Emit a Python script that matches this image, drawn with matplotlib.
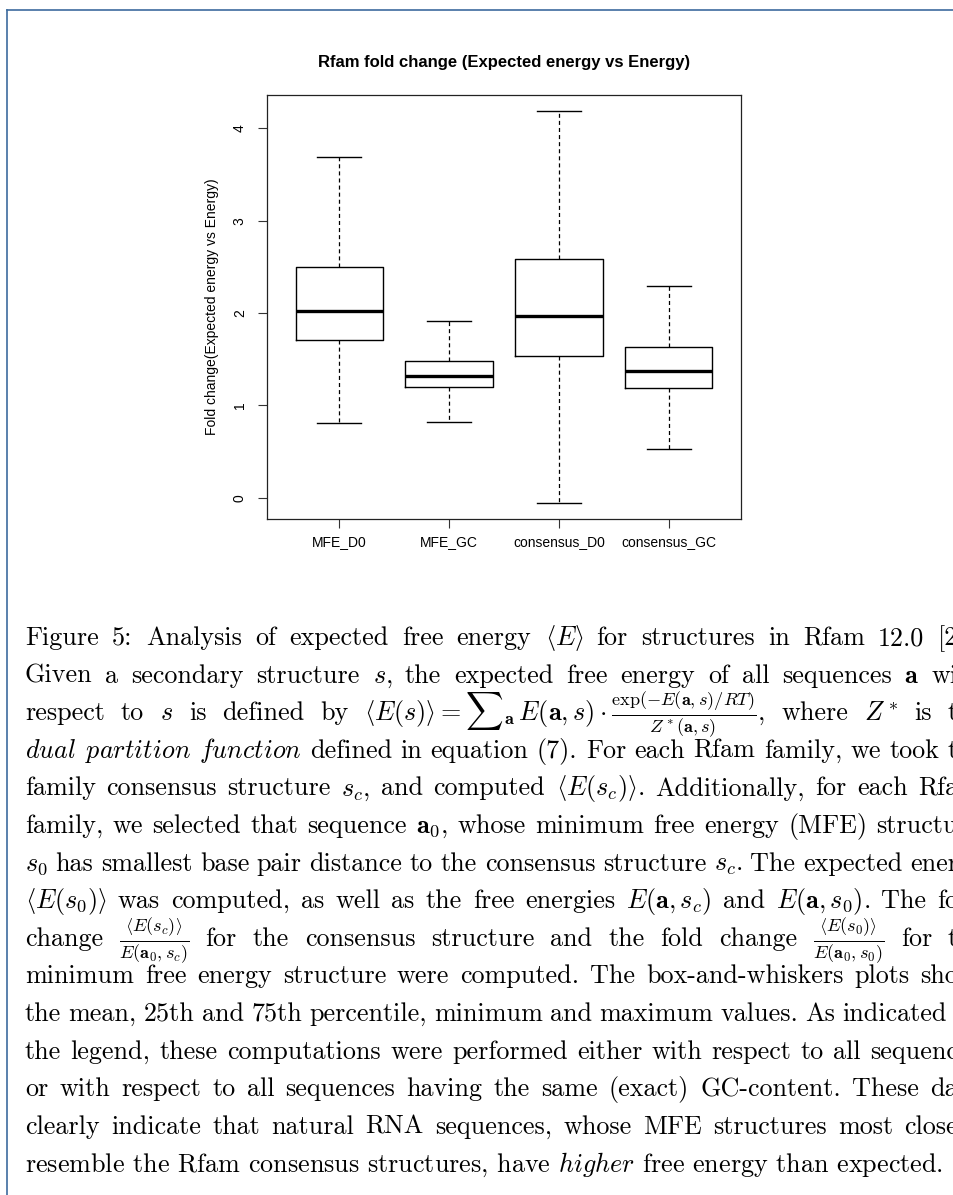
import matplotlib.pyplot as plt
from matplotlib.lines import Line2D

plt.rcParams['mathtext.fontset'] = 'cm'
plt.rcParams['lines.scale_dashes'] = False

groups = ['MFE_D0', 'MFE_GC', 'consensus_D0', 'consensus_GC']
whislo = [0.81, 0.82, -0.06, 0.53]
q1 = [1.71, 1.20, 1.53, 1.19]
med = [2.02, 1.32, 1.97, 1.37]
q3 = [2.50, 1.48, 2.59, 1.63]
whishi = [3.69, 1.91, 4.19, 2.29]
yticks = [0, 1, 2, 3, 4]

# text-size angle brackets live at 'h'/'i' in cmsy10 (the cm "cal" font)
LA, RA = r'\mathcal{h}', r'\mathcal{i}'
caption = [
    r"Figure 5: Analysis of expected free energy $LA E RA$ for structures in Rfam 12.0 [2",
    r"Given a secondary structure $s$, the expected free energy of all sequences $\mathbf{a}$ wi",
    r"respect to $s$ is defined by $LA E(s) RA = {\sum}_{\mathbf{a}}\, E(\mathbf{a},s)\cdot\frac{\exp(-E(\mathbf{a},s)/RT)}{Z^*(\mathbf{a},s)}$, where $Z^*$ is t",
    r"$\mathit{dual}$ $\mathit{partition}$ $\mathit{function}$ defined in equation (7). For each Rfam family, we took t",
    r"family consensus structure $s_c$, and computed $LA E(s_c) RA$. Additionally, for each Rfa",
    r"family, we selected that sequence $\mathbf{a}_0$, whose minimum free energy (MFE) structu",
    r"$s_0$ has smallest base pair distance to the consensus structure $s_c$. The expected ener",
    r"$LA E(s_0) RA$ was computed, as well as the free energies $E(\mathbf{a},s_c)$ and $E(\mathbf{a},s_0)$. The fo",
    r"change $\frac{LA E(s_c) RA}{E(\mathbf{a}_0,s_c)}$ for the consensus structure and the fold change $\frac{LA E(s_0) RA}{E(\mathbf{a}_0,s_0)}$ for t",
    r"minimum free energy structure were computed. The box-and-whiskers plots sho",
    r"the mean, 25th and 75th percentile, minimum and maximum values. As indicated",
    r"the legend, these computations were performed either with respect to all sequenc",
    r"or with respect to all sequences having the same (exact) GC-content. These da",
    r"clearly indicate that natural RNA sequences, whose MFE structures most close",
    r"resemble the Rfam consensus structures, have $\mathit{higher}$ free energy than expected.",
]
caption = [c.replace('LA ', LA).replace(' RA', RA) for c in caption]
# right edge (px) each caption line is stretched to; None = natural spacing
line_ends = [958] * 10 + [947] + [958] * 3 + [None]

W, H = 954, 1195
fig = plt.figure(figsize=(W / 100, H / 100), dpi=100)

# page frame
fig.add_artist(Line2D([7 / W, 1], [1 - 10 / H, 1 - 10 / H], color='#3d6b9e', lw=1.2))
fig.add_artist(Line2D([7 / W, 7 / W], [0, 1 - 10 / H], color='#3d6b9e', lw=1.2))

ax = fig.add_axes([267 / W, 1 - 519 / H, (741 - 267) / W, (519 - 95) / H])
stats = [dict(label=g, whislo=lo, q1=a, med=m, q3=b, whishi=hi)
         for g, lo, a, m, b, hi in zip(groups, whislo, q1, med, q3, whishi)]
ax.bxp(stats, positions=range(1, 5), widths=0.8, capwidths=0.4, showfliers=False,
       boxprops=dict(color='black', lw=1.0),
       whiskerprops=dict(color='black', lw=0.9, linestyle=(0, (2.9, 2.2))),
       capprops=dict(color='black', lw=1.0),
       medianprops=dict(color='black', lw=2.4, solid_capstyle='butt'))

lo, hi = min(whislo), max(whishi)
pad = 0.04 * (hi - lo)
ax.set_ylim(lo - pad, hi + pad)
ax.set_xlim(0.34, 4.66)
ax.set_yticks(yticks)
ax.set_yticklabels([str(v) for v in yticks], rotation=90, va='center',
                   fontfamily='Liberation Sans', fontsize=10)
ax.set_xticks(range(1, 5))
ax.set_xticklabels(groups, fontfamily='Liberation Sans', fontsize=10)
ax.tick_params(axis='y', length=6.5, width=0.8, pad=8, colors='#333333', labelcolor='black')
ax.tick_params(axis='x', length=6.5, width=0.8, pad=5, colors='#333333', labelcolor='black')
for sp in ax.spines.values():
    sp.set_linewidth(0.9)
    sp.set_color('#222222')

fig.text(212 / W, 1 - 307 / H, 'Fold change(Expected energy vs Energy)', rotation=90,
         ha='center', va='center', fontfamily='Liberation Sans', fontsize=10)
fig.text(504 / W, 1 - 63 / H, 'Rfam fold change (Expected energy vs Energy)',
         ha='center', va='center', fontfamily='Liberation Sans', fontsize=12, fontweight='bold')


def split_words(line):
    words, cur, inmath = [], '', False
    for ch in line:
        if ch == '$':
            inmath = not inmath
        if ch == ' ' and not inmath:
            words.append(cur)
            cur = ''
        else:
            cur += ch
    words.append(cur)
    return words


renderer = fig.canvas.get_renderer()
x0 = 25
size = 18.8
for i, (line, x1) in enumerate(zip(caption, line_ends)):
    y = 1 - (645 + 37.6 * i) / H
    if x1 is None:
        fig.text(x0 / W, y, line, fontfamily='cmr10', fontsize=size, va='baseline')
        continue
    words = split_words(line)
    texts = [fig.text(0, y, w, fontfamily='cmr10', fontsize=size, va='baseline') for w in words]
    widths = [t.get_window_extent(renderer=renderer).width for t in texts]
    gap = (x1 - x0 - sum(widths)) / (len(words) - 1)
    x = x0
    for t, w in zip(texts, widths):
        t.set_x(x / W)
        x += w + gap

fig.savefig('out.png', dpi=100)
